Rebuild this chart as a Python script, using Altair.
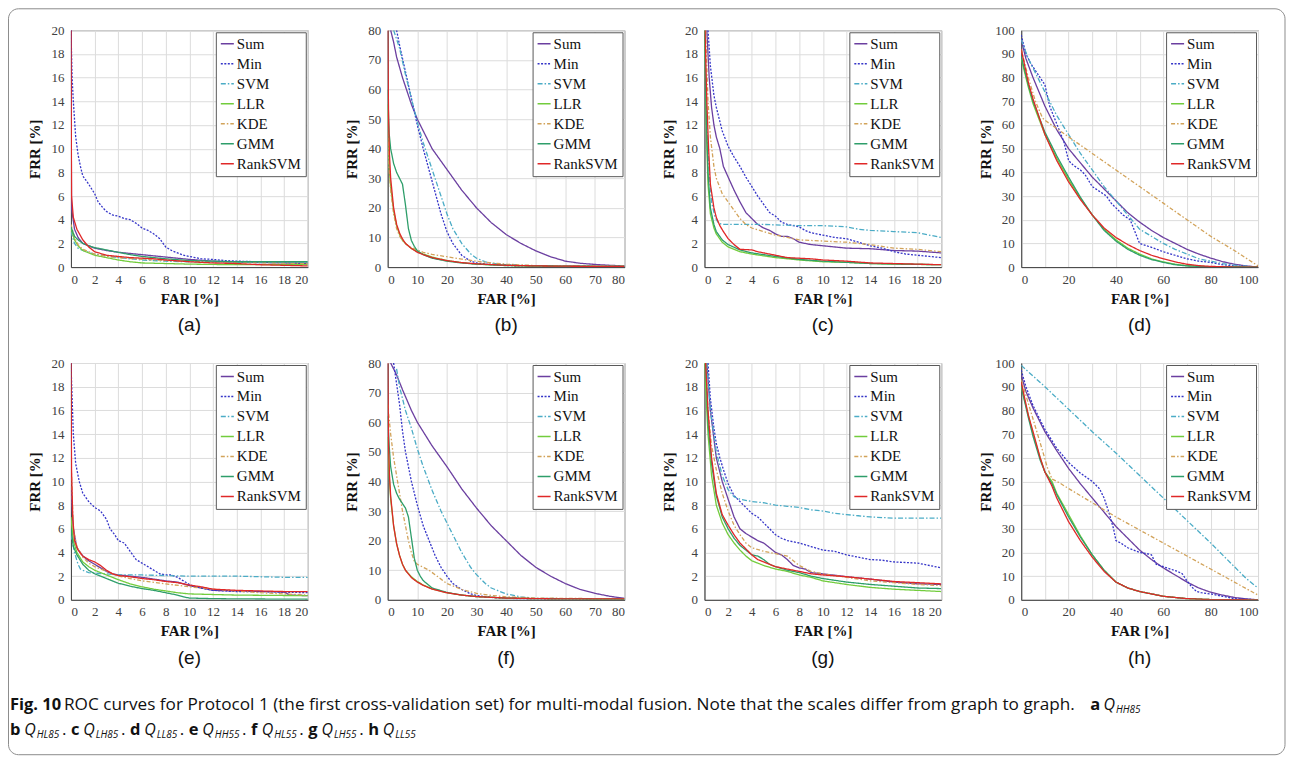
import altair as alt
import pandas as pd

SERIES = ["Sum", "Min", "SVM", "LLR", "KDE", "GMM", "RankSVM"]
COLORS = ["#6B3FA0", "#3535C8", "#4BACC6", "#72CC3C", "#D2A35A", "#2E9E6A", "#E02828"]
DASHES = [[1, 0], [2, 1.5], [5, 2, 1.5, 2], [1, 0], [4, 2, 1.5, 2], [1, 0], [1, 0]]

PANEL_A = {
    "Sum": [(0, 20), (0.05, 5), (0.3, 3.2), (0.6, 2.5), (1, 2.0), (1.5, 1.8), (2, 1.6), (3, 1.4), (4, 1.25), (5, 1.15), (6, 1.05), (7, 0.95), (8, 0.85), (9, 0.75), (10, 0.65), (12, 0.5), (14, 0.42), (16, 0.38), (18, 0.35), (20, 0.3)],
    "Min": [(0, 20), (0.1, 16), (0.2, 14), (0.4, 11), (0.6, 9.5), (0.8, 8.5), (1, 7.7), (1.5, 7.0), (2, 6.2), (2.3, 5.5), (2.7, 5.0), (3, 4.7), (3.5, 4.4), (4, 4.3), (4.5, 4.1), (5, 4.0), (5.5, 3.7), (6, 3.3), (6.5, 3.1), (7, 2.8), (7.5, 2.4), (8, 1.7), (8.5, 1.4), (9, 1.2), (9.5, 1.0), (10, 0.9), (10.5, 0.8), (11, 0.7), (12, 0.65), (13, 0.55), (14, 0.5), (16, 0.45), (18, 0.45), (20, 0.45)],
    "SVM": [(0, 3.0), (0.3, 2.0), (0.6, 1.6), (1, 1.4), (2, 1.1), (3, 0.95), (4, 0.8), (6, 0.6), (8, 0.5), (10, 0.45), (12, 0.42), (16, 0.4), (20, 0.4)],
    "LLR": [(0, 3.3), (0.3, 2.3), (0.6, 1.8), (1, 1.4), (2, 1.0), (3, 0.8), (4, 0.6), (5, 0.45), (6, 0.35), (8, 0.3), (10, 0.25), (14, 0.2), (20, 0.2)],
    "KDE": [(0, 3.6), (0.3, 2.5), (0.6, 1.9), (1, 1.5), (2, 1.1), (3, 0.9), (4, 0.8), (6, 0.65), (8, 0.55), (10, 0.5), (14, 0.4), (20, 0.3)],
    "GMM": [(0, 3.4), (0.3, 2.6), (0.6, 2.3), (1, 2.0), (1.5, 1.8), (2, 1.65), (3, 1.45), (4, 1.25), (5, 1.05), (6, 0.9), (7, 0.8), (8, 0.7), (10, 0.55), (12, 0.5), (14, 0.45), (20, 0.45)],
    "RankSVM": [(0, 20), (0.05, 6), (0.2, 4.2), (0.5, 3.2), (1, 2.3), (1.5, 1.7), (2, 1.3), (3, 1.0), (4, 0.9), (5, 0.8), (6, 0.75), (7, 0.7), (8, 0.6), (10, 0.45), (12, 0.35), (14, 0.3), (16, 0.2), (18, 0.15), (20, 0.1)],
}

PANEL_B = {
    "Sum": [(1, 80), (2, 76), (3, 71), (5, 64), (8, 55), (10, 50), (12, 46), (15, 40), (20, 33), (25, 26), (30, 20), (35, 15), (40, 11), (45, 8), (50, 5.5), (55, 3.5), (60, 2), (65, 1.3), (70, 0.9), (75, 0.6), (80, 0.4)],
    "Min": [(3, 80), (4, 75), (6, 66), (8, 57), (10, 48), (12, 40), (15, 29), (18, 18), (20, 12), (22, 8), (25, 4), (28, 2), (30, 1.4), (35, 0.8), (40, 0.5), (50, 0.3), (80, 0.2)],
    "SVM": [(2, 80), (4, 74), (6, 65), (8, 57), (10, 49), (12, 42), (15, 33), (18, 24), (20, 18), (22, 13), (25, 8), (28, 4.5), (30, 3), (33, 1.8), (35, 1.3), (40, 0.8), (50, 0.4), (80, 0.2)],
    "LLR": [(0, 55), (0.3, 40), (0.6, 32), (1, 27), (2, 19), (3, 14), (4, 11), (5, 9), (6, 8), (8, 6.3), (10, 5.2), (12, 4.4), (15, 3.4), (20, 2.2), (25, 1.5), (30, 1.0), (40, 0.5), (50, 0.3), (80, 0.2)],
    "KDE": [(0, 52), (0.5, 33), (1, 26), (2, 18), (3, 13), (4, 10.5), (5, 9), (7, 7), (10, 5.8), (12, 5), (15, 4.3), (20, 3.5), (25, 2.7), (30, 2), (35, 1.4), (40, 1), (50, 0.5), (80, 0.3)],
    "GMM": [(0, 60), (0.5, 45), (1, 40), (2, 35), (3, 32), (4, 30), (5, 28), (6, 21), (7, 13), (8, 9), (9, 7), (10, 5.5), (12, 4.2), (15, 3), (20, 2), (25, 1.4), (30, 1), (40, 0.6), (50, 0.4), (80, 0.2)],
    "RankSVM": [(0, 80), (0.3, 50), (0.6, 38), (1, 30), (2, 20), (3, 14.5), (4, 11.5), (5, 9.5), (6, 8), (8, 6.3), (10, 5), (12, 4.2), (15, 3.2), (20, 2.2), (25, 1.5), (30, 1.1), (40, 0.6), (50, 0.4), (60, 0.3), (80, 0.2)],
}

PANEL_C = {
    "Sum": [(0.2, 20), (0.4, 16), (0.6, 13.5), (0.8, 12), (1, 11), (1.3, 10), (1.6, 8.5), (2, 7.6), (2.5, 6.5), (3, 5.5), (3.5, 4.6), (4, 4.1), (4.5, 3.6), (5, 3.3), (5.5, 3.1), (6, 2.8), (6.5, 2.6), (7, 2.6), (7.5, 2.4), (8, 2.1), (9, 1.9), (10, 1.8), (12, 1.6), (14, 1.55), (16, 1.4), (18, 1.35), (20, 1.2)],
    "Min": [(0.3, 20), (0.5, 17), (0.8, 14.5), (1, 13.5), (1.5, 11.5), (2, 10.2), (2.5, 9.3), (3, 8.5), (3.5, 7.6), (4, 6.8), (4.5, 6), (5, 5.3), (5.5, 4.6), (6, 4.3), (6.5, 3.8), (7, 3.6), (7.5, 3.5), (8, 3.4), (8.5, 3.1), (9, 2.9), (10, 2.7), (11, 2.5), (12, 2.4), (13, 2.1), (14, 1.8), (15, 1.6), (16, 1.3), (17, 1.1), (18, 1.0), (19, 0.9), (20, 0.8)],
    "SVM": [(0, 20), (0.2, 12), (0.4, 8), (0.6, 5.5), (0.9, 4.2), (1.2, 3.7), (1.5, 3.6), (3, 3.6), (5, 3.6), (8, 3.5), (10, 3.5), (12, 3.4), (13, 3.2), (14, 3.1), (16, 3.0), (18, 2.9), (20, 2.5)],
    "LLR": [(0, 20), (0.15, 12), (0.3, 7), (0.5, 4.5), (0.8, 3.3), (1, 2.8), (1.5, 2.1), (2, 1.7), (3, 1.3), (4, 1.1), (5, 0.95), (6, 0.8), (8, 0.6), (10, 0.45), (12, 0.4), (14, 0.3), (16, 0.25), (20, 0.2)],
    "KDE": [(0.1, 20), (0.3, 14), (0.5, 11), (0.8, 8.5), (1, 7.5), (1.5, 6.2), (2, 5.5), (2.5, 4.8), (3, 4.1), (3.5, 3.6), (4, 3.3), (5, 3), (6, 2.7), (7, 2.5), (8, 2.3), (10, 2.2), (12, 2.1), (14, 1.9), (16, 1.6), (18, 1.5), (20, 1.3)],
    "GMM": [(0, 20), (0.15, 13), (0.3, 8), (0.5, 5), (0.8, 3.6), (1, 3), (1.5, 2.3), (2, 1.9), (3, 1.45), (4, 1.2), (5, 1.05), (6, 0.9), (8, 0.65), (10, 0.5), (12, 0.4), (14, 0.3), (20, 0.2)],
    "RankSVM": [(0.05, 20), (0.2, 14), (0.35, 10), (0.5, 7), (0.8, 5), (1, 4.2), (1.3, 3.5), (1.6, 3), (2, 2.4), (2.5, 1.9), (3, 1.5), (4, 1.45), (4.5, 1.3), (5, 1.2), (6, 1.0), (7, 0.8), (8, 0.75), (9, 0.7), (10, 0.6), (12, 0.5), (14, 0.35), (16, 0.3), (18, 0.25), (20, 0.2)],
}

PANEL_D = {
    "Sum": [(0, 96), (2, 88), (5, 80), (10, 68), (15, 58), (20, 50), (25, 44), (30, 38), (35, 33), (40, 28), (45, 23), (50, 19), (55, 15.5), (60, 12.5), (65, 10), (70, 7.5), (75, 5.5), (80, 3.8), (85, 2.3), (90, 1.2), (95, 0.5), (100, 0)],
    "Min": [(0, 98), (2, 90), (4, 86), (6, 83), (8, 80), (10, 77), (12, 68), (14, 63), (16, 58), (18, 53), (20, 45), (22, 43), (25, 41), (27, 39), (30, 34), (33, 32), (36, 30), (38, 27), (40, 25), (43, 22), (46, 20), (48, 15), (50, 10), (53, 9), (56, 8), (60, 6.5), (65, 5), (70, 3.5), (75, 2.5), (80, 2), (85, 1), (90, 0.5), (100, 0)],
    "SVM": [(0, 96), (3, 88), (6, 82), (10, 74), (15, 64), (20, 56), (25, 48), (30, 41), (35, 34), (40, 28), (45, 22), (50, 16), (55, 13), (60, 10), (65, 7.5), (70, 5.5), (75, 3.5), (80, 2.5), (85, 1.5), (90, 0.8), (100, 0)],
    "LLR": [(0, 88), (3, 76), (5, 69), (10, 56), (15, 46), (20, 37), (25, 29), (30, 22), (35, 16), (40, 11.5), (45, 8), (50, 5.5), (55, 3.5), (60, 2.2), (65, 1.2), (70, 0.6), (80, 0.1), (100, 0)],
    "KDE": [(0, 92), (3, 80), (6, 70), (9, 63), (10, 62), (20, 55), (30, 48), (40, 41), (50, 34), (60, 27), (70, 20), (80, 13), (90, 7), (100, 0.5)],
    "GMM": [(0, 89), (3, 77), (5, 70), (10, 57), (15, 47), (20, 38), (25, 29.5), (30, 22), (35, 15.5), (40, 11), (45, 7.5), (50, 5), (55, 3.2), (60, 2), (65, 1), (70, 0.5), (80, 0.1), (100, 0)],
    "RankSVM": [(0, 92), (3, 78), (5, 71), (10, 56), (15, 45), (20, 36), (25, 28.5), (30, 22), (35, 16.5), (40, 12.5), (45, 9.5), (50, 7), (55, 5), (60, 3.5), (65, 2.2), (70, 1.2), (75, 0.6), (80, 0.3), (90, 0), (100, 0)],
}

PANEL_E = {
    "Sum": [(0, 9.5), (0.2, 6), (0.5, 4.4), (1, 3.7), (1.5, 3.3), (2, 3.0), (2.5, 2.7), (3, 2.4), (3.5, 2.2), (4, 2.1), (5, 2.0), (6, 1.9), (7, 1.75), (8, 1.6), (9, 1.5), (10, 1.2), (11, 1.0), (12, 0.8), (14, 0.75), (16, 0.7), (18, 0.65), (18.5, 0.4), (20, 0.35)],
    "Min": [(0, 20), (0.1, 17), (0.2, 14), (0.4, 11.5), (0.7, 10), (1, 9), (1.5, 8.3), (2, 7.8), (2.5, 7.5), (3, 6.8), (3.3, 6), (3.7, 5.5), (4, 5), (4.5, 4.8), (5, 4.1), (5.5, 3.4), (6, 3.1), (6.5, 2.8), (7, 2.5), (7.5, 2.2), (8, 2.1), (8.5, 2.1), (9, 1.9), (9.5, 1.6), (10, 1.3), (10.5, 1.1), (11, 1.0), (12, 0.8), (13, 0.75), (14, 0.7), (16, 0.7), (18, 0.65), (20, 0.6)],
    "SVM": [(0, 5.5), (0.3, 4), (0.6, 3), (0.8, 2.6), (1, 2.5), (1.5, 2.3), (2, 2.25), (3, 2.2), (4, 2.1), (6, 2.1), (8, 2.05), (10, 2.0), (12, 2.0), (14, 2.0), (16, 1.95), (18, 1.9), (20, 1.9)],
    "LLR": [(0, 7), (0.2, 5), (0.5, 4), (1, 3.2), (1.5, 2.8), (2, 2.5), (3, 2.1), (4, 1.7), (5, 1.35), (6, 1.1), (7, 0.9), (8, 0.75), (9, 0.6), (10, 0.5), (12, 0.45), (14, 0.4), (20, 0.35)],
    "KDE": [(0, 12), (0.2, 6), (0.5, 4.5), (1, 3.6), (1.5, 3.1), (2, 2.8), (3, 2.4), (4, 2.0), (5, 1.8), (6, 1.6), (8, 1.35), (10, 1.1), (12, 0.9), (14, 0.75), (16, 0.6), (18, 0.5), (20, 0.4)],
    "GMM": [(0, 6), (0.2, 4.5), (0.5, 3.8), (1, 3.0), (1.5, 2.5), (2, 2.2), (3, 1.8), (4, 1.4), (5, 1.15), (6, 0.95), (7, 0.8), (8, 0.6), (9, 0.4), (9.5, 0.25), (10, 0.15), (12, 0.1), (14, 0.08), (20, 0.05)],
    "RankSVM": [(0, 20), (0.05, 11), (0.15, 7), (0.3, 5), (0.6, 4.2), (1, 3.7), (1.5, 3.4), (2, 3.2), (2.5, 2.9), (3, 2.5), (3.5, 2.2), (4, 2.05), (5, 1.95), (6, 1.8), (7, 1.7), (8, 1.55), (9, 1.45), (10, 1.25), (11, 1.1), (12, 0.9), (13, 0.85), (14, 0.8), (16, 0.75), (18, 0.7), (20, 0.7)],
}

PANEL_F = {
    "Sum": [(1, 80), (3, 76), (5, 71), (8, 64), (10, 60), (15, 52), (20, 45), (25, 37.5), (30, 31), (35, 25), (40, 20), (45, 15), (50, 11), (55, 8), (60, 5.5), (65, 3.5), (70, 2.2), (75, 1.2), (80, 0.5)],
    "Min": [(2, 80), (3, 73), (4, 66), (5, 57), (6, 50), (8, 40), (10, 32), (12, 25), (14, 20), (16, 15), (18, 11), (20, 8), (22, 5.5), (25, 3.5), (28, 2), (30, 1.5), (35, 0.8), (40, 0.5), (50, 0.3), (80, 0.1)],
    "SVM": [(3, 78), (4, 72), (5, 68), (6, 64), (8, 58), (10, 51), (12, 45), (15, 37), (18, 30), (20, 26), (22, 22), (25, 16), (28, 11), (30, 8.5), (33, 5.5), (35, 4), (40, 2), (45, 1), (50, 0.5), (80, 0.2)],
    "LLR": [(0, 55), (0.5, 42), (1, 34), (2, 25), (3, 19), (4, 15), (5, 12), (6, 10), (8, 7.8), (10, 6.2), (12, 5), (15, 3.7), (20, 2.4), (25, 1.6), (30, 1.1), (40, 0.6), (50, 0.4), (80, 0.2)],
    "KDE": [(0, 66), (1, 56), (2, 48), (3, 42), (4, 36), (5, 30), (6, 25), (7, 20), (8, 16), (9, 13), (10, 12), (12, 11), (14, 10), (16, 8.5), (18, 7), (20, 5.5), (25, 3.5), (30, 2.2), (35, 1.5), (40, 1), (50, 0.6), (80, 0.3)],
    "GMM": [(0, 62), (0.5, 52), (1, 45), (2, 39), (3, 36), (4, 34), (5, 32.5), (6, 31), (7, 28), (8, 21), (9, 14), (10, 10), (11, 8), (12, 6.5), (15, 4), (20, 2.5), (25, 1.6), (30, 1.1), (40, 0.6), (50, 0.4), (80, 0.2)],
    "RankSVM": [(0, 80), (0.3, 52), (0.6, 42), (1, 35), (2, 25), (3, 19), (4, 15), (5, 12), (6, 10), (8, 7.5), (10, 6), (12, 4.9), (15, 3.6), (20, 2.4), (25, 1.6), (30, 1.1), (40, 0.6), (50, 0.4), (60, 0.3), (80, 0.3)],
}

PANEL_G = {
    "Sum": [(0.2, 20), (0.5, 16), (1, 12), (1.5, 10), (2, 8.5), (2.5, 7), (3, 6), (3.5, 5.6), (4, 5.3), (4.5, 5), (5, 4.8), (5.5, 4.4), (6, 4.0), (6.5, 3.8), (7, 3.4), (7.5, 2.9), (8, 2.7), (8.5, 2.6), (9, 2.3), (10, 2.2), (12, 1.95), (14, 1.75), (16, 1.5), (18, 1.35), (20, 1.3)],
    "Min": [(0.3, 20), (0.5, 17), (0.8, 14.5), (1, 13.2), (1.3, 12), (1.6, 11), (2, 9.8), (2.5, 8.8), (3, 8.3), (3.5, 7.8), (4, 7.3), (4.5, 7), (5, 6.5), (5.5, 6), (6, 5.5), (6.5, 5.2), (7, 5.0), (8, 4.8), (9, 4.5), (10, 4.2), (11, 4.1), (12, 3.8), (13, 3.6), (14, 3.4), (15, 3.35), (16, 3.2), (17, 3.15), (18, 3.1), (19, 2.9), (20, 2.7)],
    "SVM": [(0.2, 20), (0.5, 16), (1, 12.5), (1.5, 10.5), (2, 9.3), (2.5, 8.7), (3, 8.5), (4, 8.3), (5, 8.2), (6, 8.0), (7, 7.9), (8, 7.8), (9, 7.6), (10, 7.5), (11, 7.3), (12, 7.2), (13, 7.1), (14, 7.0), (16, 6.9), (18, 6.9), (20, 6.9)],
    "LLR": [(0, 20), (0.3, 14), (0.6, 10.5), (1, 8), (1.5, 6.5), (2, 5.5), (2.5, 4.8), (3, 4.2), (3.5, 3.7), (4, 3.3), (5, 2.9), (6, 2.6), (7, 2.4), (8, 2.1), (9, 1.9), (10, 1.6), (12, 1.3), (14, 1.05), (16, 0.9), (18, 0.8), (20, 0.7)],
    "KDE": [(0.1, 20), (0.3, 16), (0.6, 13), (1, 11), (1.5, 9), (2, 7.5), (2.5, 6.3), (3, 5.5), (3.5, 4.8), (4, 4.4), (5, 4.1), (6, 3.9), (7, 3.7), (8, 2.9), (9, 2.4), (10, 2.2), (12, 1.9), (14, 1.6), (16, 1.45), (18, 1.3), (20, 1.2)],
    "GMM": [(0.1, 20), (0.3, 15), (0.6, 11.5), (1, 8.8), (1.5, 7), (2, 6), (2.5, 5.2), (3, 4.6), (3.5, 4.2), (4, 3.8), (4.5, 3.7), (5, 3.4), (5.5, 3.0), (6, 2.8), (7, 2.5), (8, 2.3), (9, 2.0), (10, 1.8), (12, 1.5), (14, 1.3), (16, 1.15), (18, 1.0), (20, 0.95)],
    "RankSVM": [(0.1, 20), (0.3, 16), (0.6, 12), (1, 9), (1.5, 7.2), (2, 6.3), (2.5, 5.5), (3, 4.8), (3.5, 4.3), (4, 3.8), (4.5, 3.4), (5, 3.2), (6, 2.8), (7, 2.6), (8, 2.4), (9, 2.2), (10, 2.1), (12, 1.95), (14, 1.75), (16, 1.55), (18, 1.45), (20, 1.35)],
}

PANEL_H = {
    "Sum": [(0, 95), (2, 88), (5, 81), (10, 71), (15, 63), (20, 55.5), (25, 49), (30, 43), (35, 37), (40, 31), (45, 26), (50, 21), (55, 17), (60, 13.5), (65, 10.5), (70, 7.5), (75, 5), (80, 3.2), (85, 2), (90, 1), (95, 0.4), (100, 0)],
    "Min": [(0, 97), (2, 90), (5, 82), (10, 72), (15, 64), (20, 58), (25, 53.5), (30, 50), (33, 47), (35, 43), (37, 37), (39, 30), (40, 25), (42, 24), (45, 22), (50, 20), (53, 19.5), (55, 19), (57, 15), (60, 14), (63, 13), (66, 12), (68, 11), (70, 8), (72, 5.5), (74, 3.5), (76, 3), (80, 2.5), (85, 1.5), (90, 0.5), (100, 0)],
    "SVM": [(0, 99), (10, 90), (20, 80.5), (30, 71), (40, 62), (50, 52.5), (60, 43), (70, 33.5), (80, 24), (85, 19), (90, 14), (95, 9), (100, 5)],
    "LLR": [(0, 90), (3, 78), (5, 70), (8, 60), (10, 54), (13, 50), (15, 45), (20, 36), (25, 27), (30, 19), (35, 12.5), (40, 7.5), (45, 5), (50, 3.5), (60, 1.5), (70, 0.5), (80, 0.1), (100, 0)],
    "KDE": [(0, 93), (3, 83), (6, 73), (9, 63), (11, 56), (13, 51), (16, 49.5), (20, 47), (30, 41), (40, 35), (50, 29.5), (60, 24), (70, 18.5), (80, 13), (90, 7.5), (100, 2)],
    "GMM": [(0, 90), (3, 77), (5, 69), (8, 59), (10, 54), (13, 49), (15, 44.5), (20, 35), (25, 26.5), (30, 19), (35, 12.5), (40, 7.5), (45, 5), (50, 3.5), (60, 1.5), (70, 0.5), (80, 0.1), (100, 0)],
    "RankSVM": [(0, 92), (3, 78), (5, 71), (8, 60), (10, 54), (13, 48), (15, 43), (20, 33), (25, 25), (30, 18), (35, 12), (40, 7.5), (45, 5), (50, 3.5), (60, 1.5), (70, 0.5), (80, 0.1), (100, 0)],
}

PANELS = [PANEL_A, PANEL_B, PANEL_C, PANEL_D, PANEL_E, PANEL_F, PANEL_G, PANEL_H]
LABELS = ["(a)", "(b)", "(c)", "(d)", "(e)", "(f)", "(g)", "(h)"]
AXIS_MAX = [20, 80, 20, 100, 20, 80, 20, 100]
AXIS_STEP = [2, 10, 2, 10, 2, 10, 2, 10]

CAPTION_MAIN = "ROC curves for Protocol 1 (the first cross-validation set) for multi-modal fusion. Note that the scales differ from graph to graph."
CAPTION_LETTERS = ["a", "b", "c", "d", "e", "f", "g", "h"]
CAPTION_SUBS = ["HH85", "HL85", "LH85", "LL85", "HH55", "HL55", "LH55", "LL55"]

# ---------------- layout constants ----------------
W = H = 237
SERIF = "Liberation Serif"
OX, OY = 71, 30      # page position of the first plot's origin
ROW_PITCH = 333      # plot top of row 2 minus plot top of row 1
CAP_TOP = 666        # caption group top relative to row-1 plot top


def panel(data, vmax, step, label):
    rows = []
    for s in SERIES:
        for i, (x, y) in enumerate(data[s]):
            rows.append({"series": s, "far": x, "frr": y, "i": i})
    df = pd.DataFrame(rows)
    ticks = list(range(0, vmax + 1, step))
    return alt.Chart(df).mark_line(strokeWidth=1.3, clip=True).encode(
        x=alt.X("far:Q", scale=alt.Scale(domain=[0, vmax], nice=False),
                axis=alt.Axis(values=ticks, format="d", title="FAR [%]",
                              titleY=31, titleBaseline="middle", labelPadding=6)),
        y=alt.Y("frr:Q", scale=alt.Scale(domain=[0, vmax], nice=False),
                axis=alt.Axis(values=ticks, format="d", title="FRR [%]",
                              titleX=-36, titleY=H / 2, titleAngle=-90,
                              titleAlign="center", titleBaseline="middle",
                              labelPadding=7)),
        color=alt.Color("series:N", scale=alt.Scale(domain=SERIES, range=COLORS),
                        legend=alt.Legend(title=None)),
        strokeDash=alt.StrokeDash("series:N", scale=alt.Scale(domain=SERIES, range=DASHES),
                                  legend=alt.Legend(title=None)),
        order=alt.Order("i:Q"),
    ).properties(
        width=W, height=H,
        view=alt.ViewBackground(stroke="#7f7f7f", strokeWidth=1),
        title=alt.TitleParams(label, orient="bottom", font="Liberation Sans",
                              fontSize=19, fontWeight="normal", color="#111",
                              offset=10, anchor="middle"),
    )


charts = [panel(d, m, s, l) for d, m, s, l in zip(PANELS, AXIS_MAX, AXIS_STEP, LABELS)]


def row(cs):
    return alt.hconcat(*cs, spacing=80, bounds="flush").resolve_scale(
        color="independent", strokeDash="independent", x="independent", y="independent")


# ---------------- caption ----------------
def cx(px):
    return px - OX


def cy(py):
    return py - OY - CAP_TOP


# approximate glyph advance widths (px) used to chain the caption fragments
BOLD_W = {"a": 9.4, "b": 10.3, "c": 8.3, "d": 10.3, "e": 9.6, "f": 6.6, "g": 9.2, "h": 10.5}
SUB_W = {"H": 7.2, "L": 5.1, "8": 5.7, "5": 5.7}
Q_W = 12.5

L1 = cy(705)
L2 = cy(730)

frag_rows = []
frag_rows.append({"t": "Fig. 10", "x": cx(10), "y": L1, "k": "bold"})
frag_rows.append({"t": CAPTION_MAIN, "x": cx(64), "y": L1, "k": "normal"})
frag_rows.append({"t": CAPTION_LETTERS[0], "x": cx(1091), "y": L1, "k": "bold"})
frag_rows.append({"t": "Q", "x": cx(1091 + BOLD_W["a"] + 4), "y": L1, "k": "q"})
frag_rows.append({"t": CAPTION_SUBS[0], "x": cx(1091 + BOLD_W["a"] + 4 + Q_W), "y": L1 + 5, "k": "sub"})

xpos = 10.0
for j in range(1, 8):
    letter, sub = CAPTION_LETTERS[j], CAPTION_SUBS[j]
    frag_rows.append({"t": letter, "x": cx(xpos), "y": L2, "k": "bold"})
    xpos += BOLD_W[letter] + 4
    frag_rows.append({"t": "Q", "x": cx(xpos), "y": L2, "k": "q"})
    xpos += Q_W
    frag_rows.append({"t": sub, "x": cx(xpos), "y": L2 + 5, "k": "sub"})
    xpos += sum(SUB_W[c] for c in sub) + 1.5
    if j < 7:
        frag_rows.append({"t": ".", "x": cx(xpos), "y": L2, "k": "normal"})
        xpos += 4.5 + 4.5
frags = pd.DataFrame(frag_rows)

CAP_FONT = "Open Sans"


def cap_layer(kind, **kw):
    return alt.Chart(frags).transform_filter(alt.datum.k == kind).mark_text(
        align="left", baseline="middle", font=CAP_FONT, color="#111", **kw
    ).encode(x=alt.X("x:Q", scale=None), y=alt.Y("y:Q", scale=None), text="t:N")


frame = alt.Chart(pd.DataFrame({"k": [0]})).mark_rect(
    filled=False, stroke="#8c8c8c", strokeWidth=1, cornerRadius=10
).encode(x=alt.value(cx(8.5)), x2=alt.value(cx(1286)), y=alt.value(cy(8.5)), y2=alt.value(cy(755)))

caption = alt.layer(
    frame,
    cap_layer("bold", fontSize=16.5, fontWeight="bold"),
    cap_layer("normal", fontSize=17.2),
    cap_layer("q", fontSize=16, fontStyle="italic"),
    cap_layer("sub", fontSize=10, fontStyle="italic"),
).properties(width=1150, height=50, view=alt.ViewBackground(strokeOpacity=0))

chart = alt.vconcat(row(charts[:4]), row(charts[4:]), caption, spacing=ROW_PITCH, bounds="flush").resolve_scale(
    color="independent", strokeDash="independent", x="independent", y="independent"
).properties(
    padding={"left": 0, "top": 0, "right": 0, "bottom": 0}, background="white"
).configure_axis(
    labelFont=SERIF, labelFontSize=13, labelColor="#404040",
    titleFont=SERIF, titleFontSize=15, titleFontWeight="bold", titleColor="#111",
    ticks=False, grid=True, gridColor="#dcdcdc", gridWidth=1,
    domainColor="#404040", domainWidth=1,
).configure_legend(
    orient="top-right", offset=2, padding=4, strokeColor="#595959", fillColor="white",
    symbolType="stroke", symbolSize=170, symbolStrokeWidth=1.5,
    labelFont=SERIF, labelFontSize=15, labelColor="#111", labelOffset=2,
    rowPadding=4, cornerRadius=0,
)

chart.save("out.html", embed_options={"renderer": "svg", "actions": False})
